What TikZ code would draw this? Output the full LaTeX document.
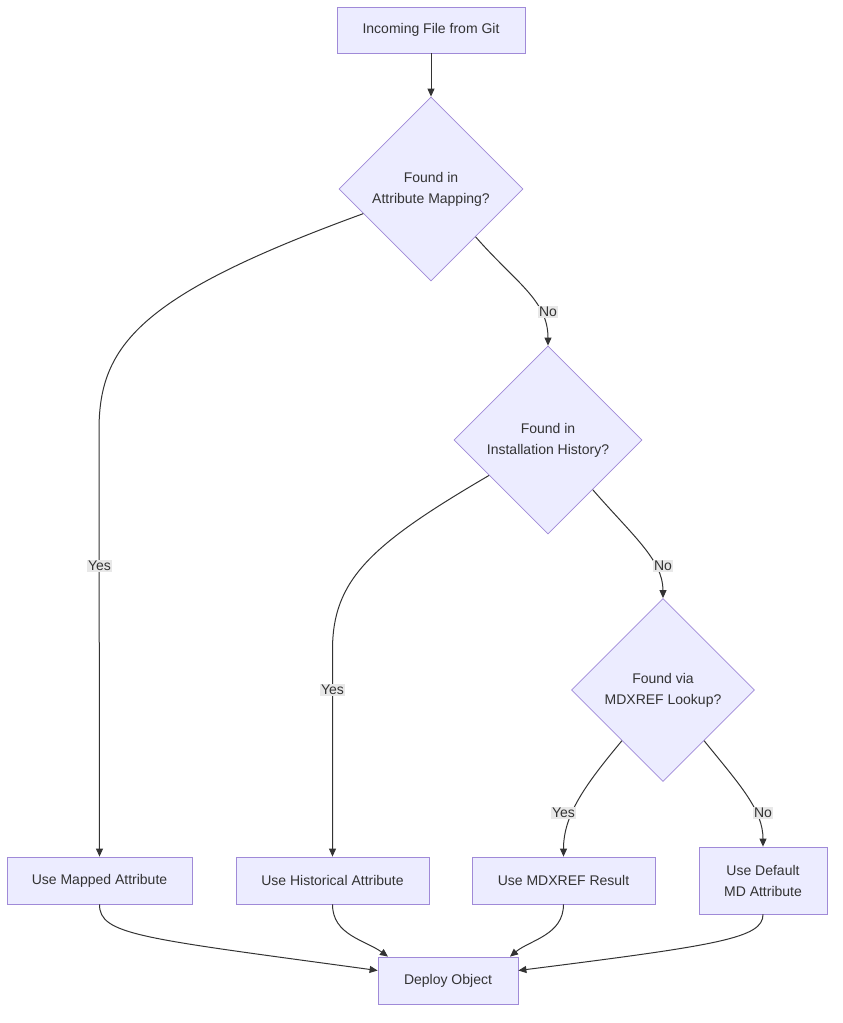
\documentclass[tikz,border=0pt]{standalone}
\usepackage{fontspec}
\setmainfont{Liberation Sans}
\usetikzlibrary{shapes.geometric,arrows.meta,calc}
\definecolor{nodefill}{HTML}{ECECFF}
\definecolor{nodeline}{HTML}{A08AD8}
\definecolor{txt}{HTML}{333333}
\definecolor{edgecol}{HTML}{333333}
\definecolor{lblbg}{HTML}{E8E8E8}
\begin{document}
\begin{tikzpicture}[x=1pt,y=-1pt,
  box/.style={rectangle,draw=nodeline,fill=nodefill,line width=0.8pt,text=txt,
    font=\fontsize{14}{21}\selectfont,align=center,inner sep=0pt},
  dia/.style={diamond,aspect=1,draw=nodeline,fill=nodefill,line width=0.8pt,text=txt,
    font=\fontsize{14}{21}\selectfont,align=center,inner sep=0pt},
  flow/.style={draw=edgecol,line width=1pt,-{Triangle[length=8pt,width=7pt]}},
  lbl/.style={fill=lblbg,text=txt,font=\fontsize{14}{17}\selectfont,inner sep=1.2pt}
]
\useasboundingbox (0,0) rectangle (843,1023);

\node[box,minimum width=188pt,minimum height=46pt] (A) at (431,30) {Incoming File from Git};
\node[dia,minimum size=184pt] (B) at (431,189) {Found in\\Attribute Mapping?};
\node[dia,minimum size=188pt] (C) at (548,440) {Found in\\Installation History?};
\node[dia,minimum size=183pt] (D) at (663,690) {Found via\\MDXREF Lookup?};
\node[box,minimum width=185pt,minimum height=47pt] (E) at (99.5,880.5) {Use Mapped Attribute};
\node[box,minimum width=193pt,minimum height=47pt] (F) at (332.5,880.5) {Use Historical Attribute};
\node[box,minimum width=183pt,minimum height=47pt] (G) at (563.5,880.5) {Use MDXREF Result};
\node[box,minimum width=128pt,minimum height=67pt] (H) at (763,880.5) {Use Default\\MD Attribute};
\node[box,minimum width=140pt,minimum height=47pt] (I) at (448,980.5) {Deploy Object};

\draw[flow] (A) -- (B);
\draw[flow] (B.200.6) .. controls (140,295) and (99,345) .. (99,430) -- (E.north);
\draw[flow] (B.313) .. controls (515,282) and (548,300) .. (C.north);
\draw[flow] (C.211) .. controls (370,545) and (332.5,580) .. (332.5,650) -- (F.north);
\draw[flow] (C.312) .. controls (632,535) and (663,560) .. (D.north);
\draw[flow] (D.231.7) .. controls (585,785) and (563.5,815) .. (G.north);
\draw[flow] (D.309) .. controls (740,785) and (763,810) .. (H.north);
\draw[flow] (E.south) .. controls (99.5,935) and (140,938) .. ([yshift=10pt]I.west);
\draw[flow] (F.south) .. controls (332.5,935) and (365,940) .. ([xshift=-60pt]I.north);
\draw[flow] (G.south) .. controls (563.5,935) and (530,940) .. ([xshift=62pt]I.north);
\draw[flow] (H.south) .. controls (763,938) and (720,945) .. ([yshift=10pt]I.east);

\node[lbl] (l1) at (99.5,566) {Yes};
\node[lbl] (l2) at (548,312) {No};
\node[lbl] (l3) at (332.5,690) {Yes};
\node[lbl] (l4) at (663,566) {No};
\node[lbl] (l5) at (563.5,813) {Yes};
\node[lbl] (l6) at (763,813) {No};
\end{tikzpicture}
\end{document}
